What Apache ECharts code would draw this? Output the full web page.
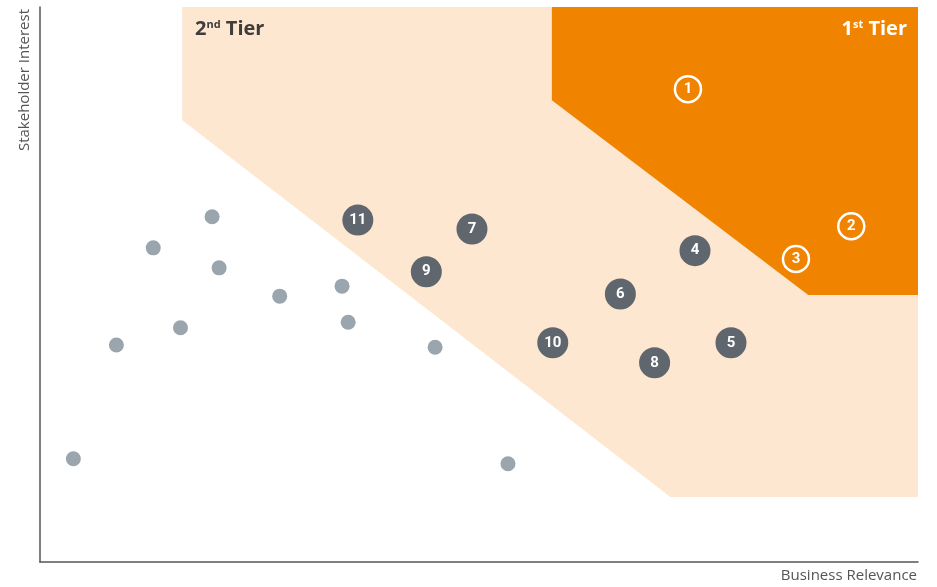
<!DOCTYPE html>
<html>
<head>
<meta charset="utf-8">
<script src="https://cdn.jsdelivr.net/npm/echarts@6/dist/echarts.min.js"></script>
<style>html,body{margin:0;padding:0;background:#fff;}#main{width:937px;height:587px;}</style>
</head>
<body>
<div id="main"></div>
<script>
// Polygons (data units, 0-100 on both axes)
var tier2Polygon = [[16.2, 100], [100, 100], [100, 11.7], [71.8, 11.7], [16.2, 79.6]];
var tier1Polygon = [[58.3, 100], [100, 100], [100, 48.1], [87.5, 48.1], [58.3, 83.2]];

// Unnumbered topics (grey dots)
var greyPoints = [
  [19.6, 62.2], [12.9, 56.6], [20.4, 53.0], [27.3, 47.9], [34.4, 49.7],
  [16.0, 42.2], [35.1, 43.2], [8.7, 39.1], [45.0, 38.7], [3.8, 18.6], [53.3, 17.7]
];

// Second tier numbered topics [x, y, label]
var tier2Points = [
  [36.2, 61.6, '11'], [49.2, 60.0, '7'], [44.0, 52.3, '9'], [74.6, 56.1, '4'],
  [66.1, 48.3, '6'], [58.4, 39.5, '10'], [70.0, 35.9, '8'], [78.7, 39.5, '5']
];

// First tier numbered topics [x, y, label]
var tier1Points = [
  [73.8, 85.2, '1'], [92.4, 60.5, '2'], [86.1, 54.6, '3']
];

var xAxisTitle = 'Business Relevance';
var yAxisTitle = 'Stakeholder Interest';

function polygonSeries(points, color, z) {
  return {
    type: 'custom',
    z: z,
    silent: true,
    data: [0],
    renderItem: function (params, api) {
      var pts = points.map(function (p) { return api.coord(p); });
      return { type: 'polygon', shape: { points: pts }, style: { fill: color } };
    }
  };
}

var chart = echarts.init(document.getElementById('main'));
chart.setOption({
  animation: false,
  grid: { left: 40, right: 19, top: 7, bottom: 25 },
  xAxis: {
    type: 'value', min: 0, max: 100,
    axisLine: { show: true, onZero: false, lineStyle: { color: '#555', width: 1.5 } },
    axisTick: { show: false }, axisLabel: { show: false }, splitLine: { show: false }
  },
  yAxis: {
    type: 'value', min: 0, max: 100,
    axisLine: { show: true, onZero: false, lineStyle: { color: '#555', width: 1.5 } },
    axisTick: { show: false }, axisLabel: { show: false }, splitLine: { show: false }
  },
  series: [
    polygonSeries(tier2Polygon, '#FDE7D0', 1),
    polygonSeries(tier1Polygon, '#F08300', 2),
    {
      type: 'scatter', z: 3, symbolSize: 15,
      itemStyle: { color: '#9AA5AD', opacity: 1 },
      data: greyPoints
    },
    {
      type: 'scatter', z: 4, symbolSize: 31,
      itemStyle: { color: '#5F666D', opacity: 1 },
      label: {
        show: true, position: 'inside', color: '#fff', fontSize: 15, fontWeight: 'bold',
        fontFamily: 'Roboto',
        formatter: function (p) { return p.data[2]; }
      },
      data: tier2Points
    },
    {
      type: 'scatter', z: 4, symbolSize: 26,
      itemStyle: { color: '#F08300', borderColor: '#fff', borderWidth: 2.5, opacity: 1 },
      label: {
        show: true, position: 'inside', color: '#fff', fontSize: 15, fontWeight: 'bold',
        fontFamily: 'Roboto',
        formatter: function (p) { return p.data[2]; }
      },
      data: tier1Points
    }
  ],
  graphic: [
    {
      type: 'text', left: 195, top: 19, z: 10,
      style: {
        text: '{n|2}{s|nd}{t| Tier}',
        rich: {
          n: { fontSize: 20, fontWeight: 'bold', fill: '#3d3d3d', fontFamily: 'Open Sans' },
          s: { fontSize: 11, fontWeight: 'bold', fill: '#3d3d3d', fontFamily: 'Open Sans', verticalAlign: 'top', padding: [0, 0, 10, 0] },
          t: { fontSize: 20, fontWeight: 'bold', fill: '#3d3d3d', fontFamily: 'Open Sans' }
        }
      }
    },
    {
      type: 'text', right: 30, top: 19, z: 10,
      style: {
        text: '{n|1}{s|st}{t| Tier}',
        rich: {
          n: { fontSize: 20, fontWeight: 'bold', fill: '#fff', fontFamily: 'Open Sans' },
          s: { fontSize: 11, fontWeight: 'bold', fill: '#fff', fontFamily: 'Open Sans', verticalAlign: 'top', padding: [0, 0, 10, 0] },
          t: { fontSize: 20, fontWeight: 'bold', fill: '#fff', fontFamily: 'Open Sans' }
        }
      }
    },
    {
      type: 'text', right: 20, top: 568, z: 10,
      style: { text: xAxisTitle, fontSize: 15, fill: '#555', fontFamily: 'Open Sans', letterSpacing: -0.5 }
    },
    {
      type: 'text', left: 17, top: 9, rotation: Math.PI / 2, z: 10,
      originX: 0, originY: 0,
      style: { text: yAxisTitle, fontSize: 15, fill: '#555', fontFamily: 'Open Sans', letterSpacing: -0.4 }
    }
  ]
});
</script>
</body>
</html>
